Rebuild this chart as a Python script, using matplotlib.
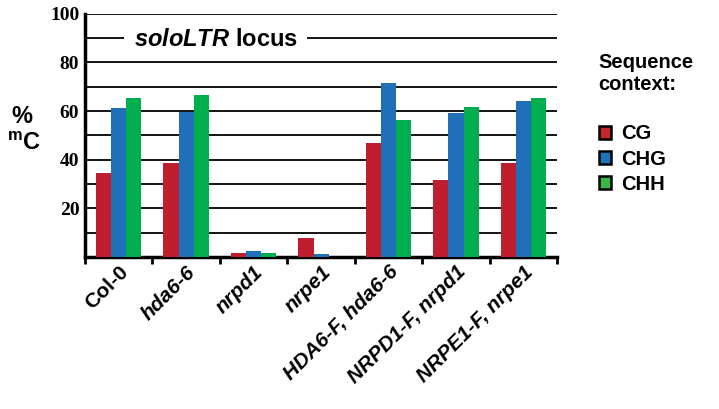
import numpy as np
import matplotlib.pyplot as plt
from matplotlib.patches import Patch

# ---- data ----
genotypes = ["Col-0", "hda6-6", "nrpd1", "nrpe1",
             "HDA6-F, hda6-6", "NRPD1-F, nrpd1", "NRPE1-F, nrpe1"]
italic_lbl = [False, True, True, True, True, True, True]
cg  = [34.5, 38.7, 1.5, 7.7, 46.8, 31.7, 38.7]
chg = [61.3, 59.8, 2.6, 1.2, 71.6, 59.1, 64.2]
chh = [65.4, 66.7, 1.6, 0.0, 56.4, 61.7, 65.4]
contexts = ["CG", "CHG", "CHH"]
bar_cols = ["#BE1E2D", "#1F70B8", "#00AE4E"]
leg_cols = ["#C1272D", "#1C75BC", "#39B54A"]

plt.rcParams["font.family"] = ["Liberation Sans", "DejaVu Sans"]
plt.rcParams["mathtext.fontset"] = "custom"
plt.rcParams["mathtext.it"] = "Liberation Sans:italic:bold"
plt.rcParams["mathtext.rm"] = "Liberation Sans:bold"

fig = plt.figure(figsize=(7.19, 4.09), dpi=100)
ax = fig.add_axes([0.118, 0.372, 0.657, 0.594])

x = np.arange(len(genotypes)) + 0.5
w = 0.223
for i, (vals, c) in enumerate(zip([cg, chg, chh], bar_cols)):
    ax.bar(x + (i - 1) * w, vals, width=w, color=c, zorder=3, linewidth=0)

ax.set_xlim(0, len(genotypes))
ax.set_ylim(0, 100)

# gridlines every 10
for yv in range(10, 101, 10):
    ax.axhline(yv, color="black", lw=1.3, zorder=1)

ax.set_yticks([20, 40, 60, 80, 100])
ax.set_yticklabels(["20", "40", "60", "80", "100"],
                   family="Liberation Serif", fontweight="bold", fontsize=14)
ax.tick_params(axis="y", length=0, pad=4)

ax.set_xticks(np.arange(len(genotypes) + 1))
ax.set_xticklabels([])
ax.tick_params(axis="x", length=5, width=2, direction="out")
ax.set_xticks(x, minor=True)
ax.set_xticklabels(genotypes, minor=True)
ax.tick_params(axis="x", which="minor", length=0, pad=4)
for lbl, it in zip(ax.get_xticklabels(minor=True), italic_lbl):
    lbl.set_rotation(45)
    lbl.set_ha("right")
    lbl.set_va("top")
    lbl.set_rotation_mode("anchor")
    lbl.set_fontweight("bold")
    lbl.set_fontsize(15)
    lbl.set_style("italic" if it else "normal")

for s in ["top", "right"]:
    ax.spines[s].set_visible(False)
ax.spines["left"].set_linewidth(2.5)
ax.spines["bottom"].set_linewidth(2.5)

# title box
ax.text(0.277, 0.893, r"$\mathit{soloLTR}$ locus", transform=ax.transAxes,
        ha="center", va="center", fontsize=17, fontweight="bold", zorder=5,
        bbox=dict(fc="white", ec="none", pad=7))

# y label
fig.text(0.03, 0.715, "%", fontsize=17, fontweight="bold", ha="center", va="center")
fig.text(0.033, 0.648, r"$^{\mathrm{m}}$C", fontsize=17, fontweight="bold",
         ha="center", va="center")

# legend
fig.text(0.832, 0.82, "Sequence\ncontext:", fontsize=14.5, fontweight="bold",
         ha="left", va="center", linespacing=1.15)
handles = [Patch(fc=c, ec="black", lw=1.8) for c in leg_cols]
fig.legend(handles, contexts, loc="upper left", bbox_to_anchor=(0.808, 0.74),
           frameon=False, prop=dict(weight="bold", size=14.5),
           handlelength=0.6, handleheight=0.6, handletextpad=0.5,
           labelspacing=0.3)

fig.savefig("out.png", dpi=100)
